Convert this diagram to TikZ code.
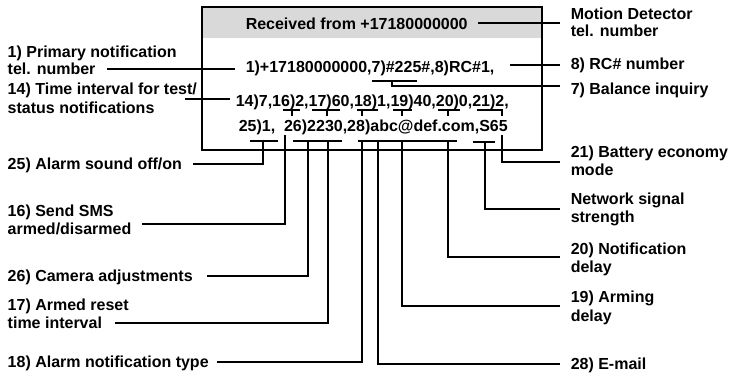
\documentclass[tikz,border=0pt]{standalone}
\usepackage{fontspec}
\setmainfont{Liberation Sans}
\definecolor{hdrgray}{HTML}{D9D9D9}
\begin{document}
\begin{tikzpicture}[x=1pt,y=-1pt,line width=1.5pt,
  txt/.style={font=\fontsize{16}{18}\selectfont\bfseries,inner sep=0pt,anchor=base west},
  lab/.style={font=\fontsize{16}{18}\selectfont\bfseries,inner sep=0pt,text height=11.5pt,text depth=0pt,anchor=west},
  wire/.style={line width=1.5pt}]
\useasboundingbox (0,0) rectangle (731,374);
% message box
\fill[hdrgray] (202,7) rectangle (542,38);
\draw (202,7) rectangle (542,150);
% box text
\node[txt] (hdr) at (245,30) {Received from +17180000000};
\node[txt] (r1) at (245,73) {1)+17180000000,7)\#225\#,8)RC\#1,};
\node[txt] (r2) at (235,107) {14)7,16)2,17)60,18)1,19)40,20)0,21)2,};
\node[txt] (r3) at (238,132) {25)1,\ \ 26)2230,28)abc@def.com,S65};
% left labels
\node[lab] (l1a) at (7,52) {1) Primary notification};
\node[lab] (l1b) at (7,69) {tel. number};
\node[lab] (l14a) at (7,89) {14) Time interval for test/};
\node[lab] (l14b) at (7,108) {status notifications};
\node[lab] (l25) at (7,164) {25) Alarm sound off/on};
\node[lab] (l16a) at (7,211) {16) Send SMS};
\node[lab] (l16b) at (7,229) {armed/disarmed};
\node[lab] (l26) at (7,276) {26) Camera adjustments};
\node[lab] (l17a) at (7,305) {17) Armed reset};
\node[lab] (l17b) at (7,323) {time interval};
\node[lab] (l18) at (7,362) {18) Alarm notification type};
% right labels
\node[lab] (rma) at (570,14) {Motion Detector};
\node[lab] (rmb) at (570,31) {tel. number};
\node[lab] (r8) at (570,64) {8) RC\# number};
\node[lab] (r7) at (570,89) {7) Balance inquiry};
\node[lab] (r21a) at (570,152) {21) Battery economy};
\node[lab] (r21b) at (570,170) {mode};
\node[lab] (rna) at (570,199) {Network signal};
\node[lab] (rnb) at (570,217) {strength};
\node[lab] (r20a) at (570,249) {20) Notification};
\node[lab] (r20b) at (570,267) {delay};
\node[lab] (r19a) at (570,297) {19) Arming};
\node[lab] (r19b) at (570,316) {delay};
\node[lab] (r28) at (570,364) {28) E-mail};
% T marks under line 2
\foreach \a/\b/\t in {283/300/292,312/340/327,357/378/362,393/412/402,438/460/448,477/503/502}{
  \draw (\a,110) -- (\b,110) (\t,110) -- (\t,116);
}
% underlines under line 3
\draw (250,141) -- (278,141);
\draw (293,141) -- (342,141);
\draw (358,141) -- (457,141);
\draw (473,142) -- (495,142);
% right connectors
\coordinate (m0) at (478,23);
\draw (m0) -- (560,23);
\coordinate (e8) at (510,65);
\draw (e8) -- (560,65);
\draw (372,81) -- (417,81);
\coordinate (e7) at (392,81);
\draw (e7) -- (392,86) -- (560,86);
\coordinate (s21) at (502,135);
\draw (s21) |- (560,162);
\coordinate (sn) at (485,142);
\draw (sn) |- (560,209);
\coordinate (s20) at (448,141);
\draw (s20) |- (560,257);
\coordinate (s19) at (402,141);
\draw (s19) |- (560,306);
\coordinate (s28) at (378,141);
\draw (s28) |- (560,364);
% left connectors
\draw (107,69) -- (235,69);
\draw (185,99) -- (230,99);
\coordinate (s25) at (263,141);
\draw (s25) |- (193,164);
\coordinate (s16) at (285,135);
\draw (s16) |- (142,224);
\coordinate (s26) at (308,141);
\draw (s26) |- (207,276);
\coordinate (s17) at (328,141);
\draw (s17) |- (115,323);
\coordinate (s18) at (362,141);
\draw (s18) |- (217,362);
\end{tikzpicture}
\end{document}
